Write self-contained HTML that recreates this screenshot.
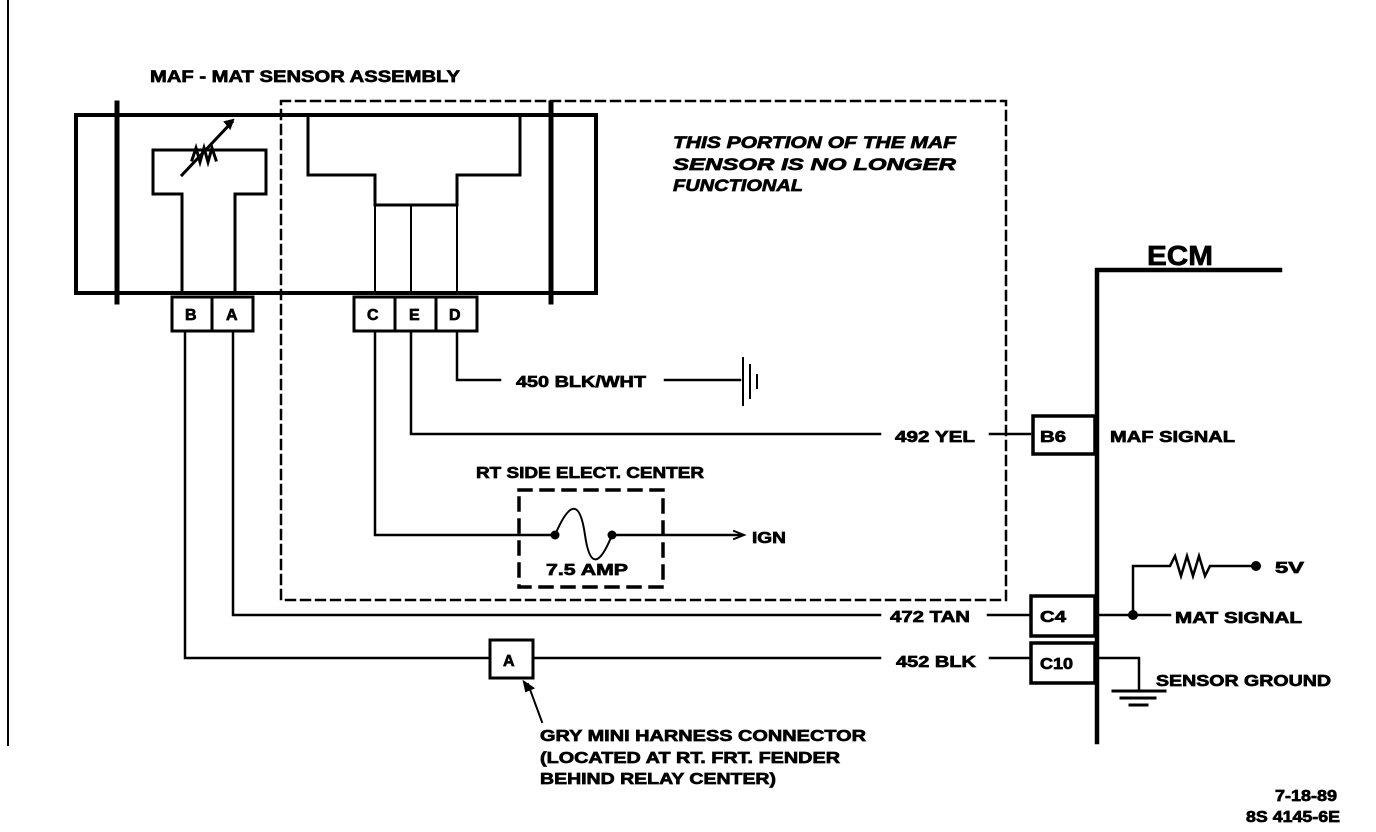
<!DOCTYPE html>
<html><head><meta charset="utf-8"><style>
html,body{margin:0;padding:0;background:#fff}
svg{display:block}
text{font-family:"Liberation Sans",sans-serif;font-weight:bold;fill:#000;stroke:#000;stroke-width:0.7}
</style></head><body>
<svg width="1376" height="832" viewBox="0 0 1376 832" xmlns="http://www.w3.org/2000/svg">
<g fill="none" stroke="#000" stroke-linecap="square">
<line x1="8" y1="0" x2="8" y2="745" stroke-width="2"/>
<rect x="76" y="115" width="520" height="178" stroke-width="4"/>
<line x1="117" y1="103" x2="117" y2="302" stroke-width="5"/>
<line x1="551" y1="103" x2="551" y2="302" stroke-width="5"/>
<path d="M182,293 V194 H153 V150 H266 V194 H235 V293" stroke-width="3"/>
<path d="M182,175 L232,122" stroke-width="3"/>
<path d="M192,160 l4,-12 l4,14 l4,-14 l4,14 l4,-14 l4,12" stroke-width="3"/>
<path d="M225,122 l8,-2 l-3,8 z" fill="#000" stroke-width="2"/>
<path d="M308,115 V175 H375 V205 H457 V175 H520 V115" stroke-width="3"/>
<line x1="375" y1="205" x2="375" y2="293" stroke-width="2"/>
<line x1="411" y1="205" x2="411" y2="293" stroke-width="2"/>
<line x1="457" y1="205" x2="457" y2="293" stroke-width="2"/>
<rect x="281" y="101" width="725" height="499" stroke-width="2.5" stroke-dasharray="9,6"/>
<rect x="172" y="297" width="81" height="34" stroke-width="3"/>
<line x1="212" y1="297" x2="212" y2="331" stroke-width="3"/>
<rect x="354" y="297" width="123" height="34" stroke-width="3"/>
<line x1="395" y1="297" x2="395" y2="331" stroke-width="3"/>
<line x1="436" y1="297" x2="436" y2="331" stroke-width="3"/>
<path d="M185,331 V658 H490" stroke-width="2.5"/>
<rect x="490" y="640" width="43" height="38" stroke-width="3"/>
<line x1="533" y1="658" x2="880" y2="658" stroke-width="2.5"/>
<line x1="990" y1="658" x2="1030" y2="658" stroke-width="2.5"/>
<rect x="1031" y="643" width="64" height="40" stroke-width="3.5"/>
<path d="M233,331 V615 H880" stroke-width="2.5"/>
<line x1="988" y1="615" x2="1030" y2="615" stroke-width="2.5"/>
<rect x="1031" y="596" width="64" height="40" stroke-width="3.5"/>
<path d="M411,331 V434 H880" stroke-width="2.5"/>
<line x1="990" y1="434" x2="1030" y2="434" stroke-width="2.5"/>
<rect x="1033" y="416" width="62" height="38" stroke-width="3.5"/>
<path d="M457,331 V380 H500" stroke-width="2.5"/>
<line x1="665" y1="380" x2="740" y2="380" stroke-width="2.5"/>
<line x1="743" y1="358" x2="743" y2="405" stroke-width="2"/>
<line x1="750" y1="365" x2="750" y2="398" stroke-width="2"/>
<line x1="757" y1="375" x2="757" y2="388" stroke-width="2"/>
<path d="M375,331 V535 H555" stroke-width="2.5"/>
<path d="M555,535 C570,500 580,500 585,535 S600,565 612,535" stroke-width="2"/>
<line x1="612" y1="535" x2="740" y2="535" stroke-width="2.5"/>
<path d="M734,531 l10,4 l-10,4" stroke-width="2"/>
<rect x="519" y="490" width="144" height="97" stroke-width="3.5" stroke-dasharray="12,10"/>
<path d="M1280,270 H1097 V742" stroke-width="4.5"/>
<line x1="1095" y1="615" x2="1170" y2="615" stroke-width="2.5"/>
<path d="M1133,615 V566 H1170 l5,-10 l6,20 l6,-20 l6,20 l6,-20 l6,20 l5,-10 H1255" stroke-width="2.5"/>
<path d="M1097,658 H1139 V690" stroke-width="2.5"/>
<line x1="1113" y1="691" x2="1165" y2="691" stroke-width="3"/>
<line x1="1121" y1="698" x2="1155" y2="698" stroke-width="3"/>
<line x1="1130" y1="705" x2="1147" y2="705" stroke-width="3"/>
<line x1="542" y1="722" x2="528" y2="684" stroke-width="2"/>
<path d="M524,682 l9,6 l-7,3 z" fill="#000" stroke-width="2"/>
</g>
<g fill="#000">
<circle cx="555" cy="535" r="4.5"/><circle cx="612" cy="535" r="4.5"/>
<circle cx="1133" cy="615" r="5"/><circle cx="1256" cy="566" r="5"/>
</g>
<text x="150" y="82" font-size="17" textLength="310" lengthAdjust="spacingAndGlyphs">MAF - MAT SENSOR ASSEMBLY</text>
<g font-size="17" font-style="italic">
<text x="673" y="148" textLength="283" lengthAdjust="spacingAndGlyphs">THIS  PORTION OF THE MAF</text>
<text x="673" y="170" textLength="283" lengthAdjust="spacingAndGlyphs">SENSOR  IS  NO  LONGER</text>
<text x="673" y="191" textLength="130" lengthAdjust="spacingAndGlyphs">FUNCTIONAL</text>
</g>
<g font-size="16">
<text x="185" y="320">B</text><text x="226" y="320">A</text>
<text x="367" y="320">C</text><text x="409" y="320">E</text><text x="449" y="320">D</text>
<text x="503" y="666">A</text>
<text x="1040" y="442" textLength="26" lengthAdjust="spacingAndGlyphs">B6</text>
<text x="1040" y="622" textLength="26" lengthAdjust="spacingAndGlyphs">C4</text>
<text x="1040" y="669" textLength="33" lengthAdjust="spacingAndGlyphs">C10</text>
<text x="516" y="387" textLength="130" lengthAdjust="spacingAndGlyphs">450 BLK/WHT</text>
<text x="895" y="442" textLength="80" lengthAdjust="spacingAndGlyphs">492 YEL</text>
<text x="890" y="622" textLength="80" lengthAdjust="spacingAndGlyphs">472 TAN</text>
<text x="896" y="667" textLength="80" lengthAdjust="spacingAndGlyphs">452 BLK</text>
<text x="476" y="478" textLength="228" lengthAdjust="spacingAndGlyphs">RT SIDE ELECT. CENTER</text>
<text x="546" y="575" textLength="82" lengthAdjust="spacingAndGlyphs">7.5 AMP</text>
<text x="752" y="543" textLength="34" lengthAdjust="spacingAndGlyphs">IGN</text>
<text x="1110" y="442" textLength="125" lengthAdjust="spacingAndGlyphs">MAF SIGNAL</text>
<text x="1175" y="623" textLength="127" lengthAdjust="spacingAndGlyphs">MAT SIGNAL</text>
<text x="1275" y="573" textLength="29" lengthAdjust="spacingAndGlyphs">5V</text>
<text x="1156" y="686" textLength="175" lengthAdjust="spacingAndGlyphs">SENSOR GROUND</text>
<text x="540" y="741" textLength="326" lengthAdjust="spacingAndGlyphs">GRY MINI HARNESS CONNECTOR</text>
<text x="540" y="763" textLength="300" lengthAdjust="spacingAndGlyphs">(LOCATED AT RT. FRT. FENDER</text>
<text x="540" y="784" textLength="236" lengthAdjust="spacingAndGlyphs">BEHIND RELAY CENTER)</text>
<text x="1275" y="801" textLength="62" lengthAdjust="spacingAndGlyphs">7-18-89</text>
<text x="1246" y="822" textLength="94" lengthAdjust="spacingAndGlyphs">8S 4145-6E</text>
</g>
<text x="1147" y="265" font-size="28" textLength="66" lengthAdjust="spacingAndGlyphs">ECM</text>
</svg>
</body></html>
